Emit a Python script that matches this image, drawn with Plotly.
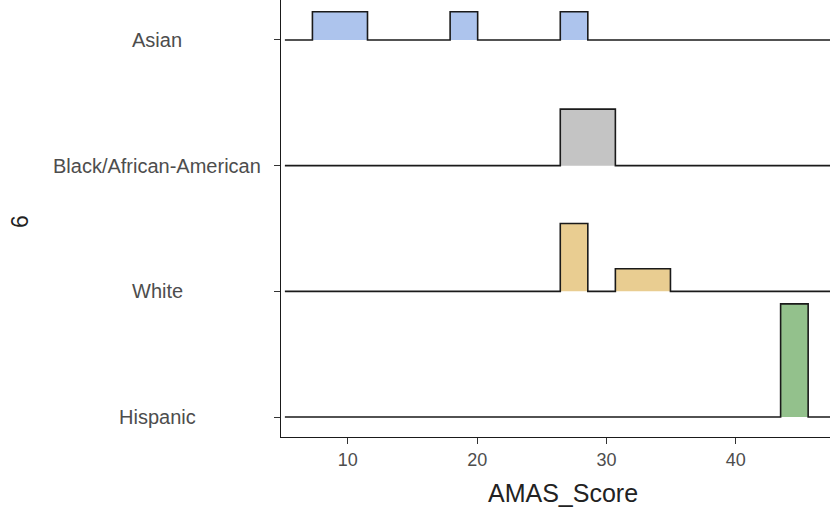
import plotly.graph_objects as go

# Groups (top to bottom as displayed)
groups = ["Asian", "Black/African-American", "White", "Hispanic"]
colors = ["#adc4ed", "#c4c4c4", "#e9cd91", "#93c18c"]

# Histogram bins (binline): shared bin grid
bin_start = 5.13
bin_width = 2.13
n_bins = 20

# Left edges of non-empty bins and their counts, per group
asian_left = [7.26, 9.39, 17.91, 26.43]
asian_counts = [1, 1, 1, 1]
black_left = [26.43, 28.56]
black_counts = [1, 1]
white_left = [26.43, 30.69, 32.82]
white_counts = [3, 1, 1]
hispanic_left = [43.47]
hispanic_counts = [1]

x_ticks = [10, 20, 30, 40]
x_title = "AMAS_Score"
y_title = "6"

ridge_scale = 0.9

data = {
    "Asian": (asian_left, asian_counts),
    "Black/African-American": (black_left, black_counts),
    "White": (white_left, white_counts),
    "Hispanic": (hispanic_left, hispanic_counts),
}

FONT = "Liberation Sans, Arial, sans-serif"

fig = go.Figure()
n_groups = len(groups)
edges = [bin_start + i * bin_width for i in range(n_bins + 1)]

for gi, g in enumerate(groups):
    base = n_groups - 1 - gi
    lefts, counts = data[g]
    total = sum(counts)
    heights = [0.0] * n_bins
    for L, c in zip(lefts, counts):
        idx = int(round((L - bin_start) / bin_width))
        heights[idx] = ridge_scale * c / total
    xs = [edges[0]]
    ys = [base]
    for i in range(n_bins):
        xs += [edges[i], edges[i + 1]]
        ys += [base + heights[i], base + heights[i]]
    xs.append(edges[-1])
    ys.append(base)
    fig.add_trace(go.Scatter(
        x=xs, y=ys, mode="lines", fill="toself", fillcolor=colors[gi],
        line=dict(color="#1a1a1a", width=1.6), hoverinfo="skip", showlegend=False,
    ))

annotations = []
for gi, g in enumerate(groups):
    base = n_groups - 1 - gi
    annotations.append(dict(
        text=g, x=(157 - 281) / 549, xref="paper", y=base, yref="y",
        xanchor="center", yanchor="middle", showarrow=False,
        font=dict(family=FONT, size=20, color="#4d4d4d"),
    ))
annotations.append(dict(
    text=x_title, x=(563 - 281) / 549, xref="paper", y=-56 / 437, yref="paper",
    xanchor="center", yanchor="middle", showarrow=False,
    font=dict(family=FONT, size=25, color="#222222"),
))
annotations.append(dict(
    text=y_title, x=(20 - 281) / 549, xref="paper", y=1 - 222 / 437, yref="paper",
    xanchor="center", yanchor="middle", showarrow=False, textangle=-90,
    font=dict(family=FONT, size=23, color="#222222"),
))

fig.update_layout(
    width=830, height=510,
    margin=dict(l=281, r=0, t=0, b=73, autoexpand=False),
    paper_bgcolor="white", plot_bgcolor="white",
    annotations=annotations,
    xaxis=dict(
        range=[4.83, 47.29], tickvals=x_ticks, ticks="outside", ticklen=6,
        tickcolor="#333333", tickwidth=1.2, showline=True, linecolor="#1a1a1a",
        linewidth=1.3, showgrid=False, zeroline=False,
        tickfont=dict(family=FONT, size=18, color="#4d4d4d"),
    ),
    yaxis=dict(
        range=[-0.159, 3.318], tickvals=[0, 1, 2, 3], showticklabels=False,
        ticks="outside", ticklen=6, tickcolor="#333333", tickwidth=1.2,
        showline=True, linecolor="#1a1a1a", linewidth=1.3,
        showgrid=False, zeroline=False,
    ),
)

fig.write_html("out.html", config={"displayModeBar": False},
               post_script="document.body.style.margin='0';")
